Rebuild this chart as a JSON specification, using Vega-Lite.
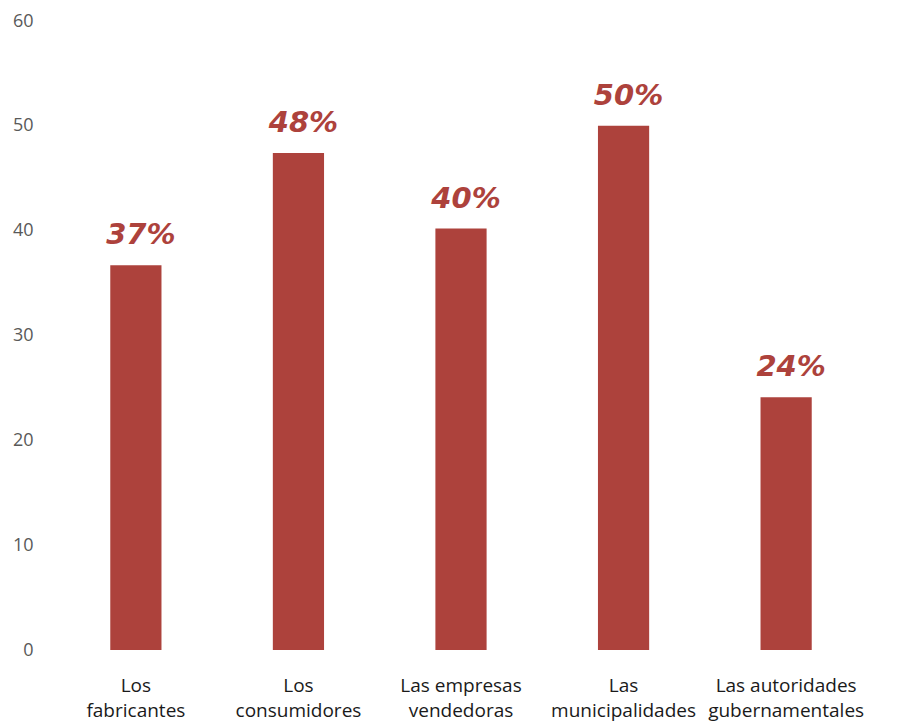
{
  "$schema": "https://vega.github.io/schema/vega-lite/v6.json",
  "width": 812,
  "height": 629,
  "autosize": {"type": "none"},
  "padding": {"left": 55, "top": 21, "right": 38, "bottom": 73},
  "background": "white",
  "config": {"view": {"stroke": null}},
  "data": {
    "values": [
      {"categoria": "Los fabricantes", "valor": 36.7, "etiqueta": "37%"},
      {"categoria": "Los consumidores", "valor": 47.4, "etiqueta": "48%"},
      {"categoria": "Las empresas vendedoras", "valor": 40.2, "etiqueta": "40%"},
      {"categoria": "Las municipalidades", "valor": 50.0, "etiqueta": "50%"},
      {"categoria": "Las autoridades gubernamentales", "valor": 24.1, "etiqueta": "24%"}
    ]
  },
  "encoding": {
    "x": {
      "field": "categoria",
      "type": "nominal",
      "sort": null,
      "scale": {"paddingInner": 0.685, "paddingOuter": 0.34},
      "axis": {
        "title": null,
        "domain": false,
        "ticks": false,
        "labelAngle": 0,
        "labelFont": "Open Sans",
        "labelFontSize": 19,
        "labelColor": "#1a1a1a",
        "labelPadding": 26,
        "labelLineHeight": 25,
        "labelExpr": "datum.value == 'Las empresas vendedoras' ? ['Las empresas','vendedoras'] : datum.value == 'Las autoridades gubernamentales' ? ['Las autoridades','gubernamentales'] : split(datum.value, ' ')"
      }
    },
    "y": {
      "field": "valor",
      "type": "quantitative",
      "scale": {"domain": [0, 60]},
      "axis": {
        "title": null,
        "domain": false,
        "ticks": false,
        "grid": false,
        "values": [0, 10, 20, 30, 40, 50, 60],
        "labelFont": "Open Sans",
        "labelFontSize": 18,
        "labelColor": "#595959",
        "labelPadding": 22
      }
    }
  },
  "layer": [
    {"mark": {"type": "bar", "color": "#AD423C"}},
    {
      "mark": {
        "type": "text",
        "dy": -30,
        "dx": 5,
        "font": "DejaVu Sans",
        "fontSize": 29,
        "fontWeight": "bold",
        "fontStyle": "italic",
        "color": "#AD423C"
      },
      "encoding": {"text": {"field": "etiqueta"}}
    }
  ]
}
